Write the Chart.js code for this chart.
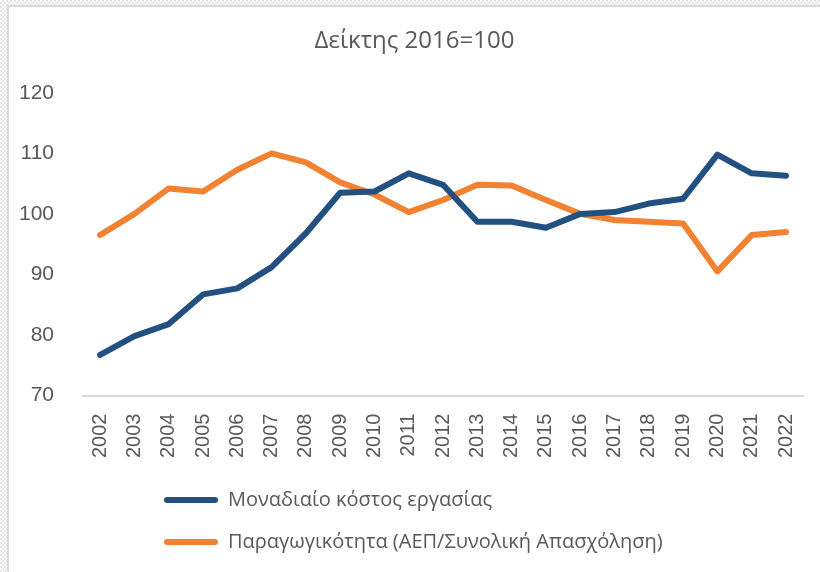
<!DOCTYPE html>
<html>
<head>
<meta charset="utf-8">
<script src="https://cdn.jsdelivr.net/npm/chart.js@4"></script>
<style>
  html, body { margin: 0; padding: 0; }
  body {
    width: 820px; height: 572px; overflow: hidden;
    background: repeating-conic-gradient(#e4e4e4 0 25%, #ffffff 0 50%) 0 0 / 4px 4px;
  }
  #box {
    position: absolute; left: 7px; top: 5px; width: 813px; height: 567px;
    background: #fff; border-left: 2px solid #d9d9d9; border-top: 2px solid #d9d9d9;
    box-sizing: border-box;
  }
  #wrap { position: absolute; left: 0; top: 0; width: 811px; height: 565px; }
</style>
</head>
<body>
<div id="box"><div id="wrap"><canvas id="lineChart"></canvas></div></div>
<script>
const years = ['2002','2003','2004','2005','2006','2007','2008','2009','2010','2011','2012',
  '2013','2014','2015','2016','2017','2018','2019','2020','2021','2022'];
const unitLabourCost = [76.7,79.8,81.8,86.7,87.7,91.2,96.8,103.5,103.7,106.7,104.8,
  98.7,98.7,97.7,100,100.3,101.7,102.5,109.8,106.7,106.3];
const productivity = [96.5,100,104.2,103.7,107.3,110,108.5,105.2,103.2,100.3,102.3,
  104.8,104.7,102.3,100,99,98.7,98.4,90.5,96.5,97];
const yTicks = [70,80,90,100,110,120];

const grey = '#595959';

// shift the bottom legend so both rows start at the same x like the original
const legendShift = {
  id: 'legendShift',
  afterLayout(chart) {
    chart.legend.left = 133;
  }
};

new Chart(lineChart, {
  type: 'line',
  data: {
    labels: years,
    datasets: [
      {
        label: 'Μοναδιαίο κόστος εργασίας',
        data: unitLabourCost,
        borderColor: '#215081',
        backgroundColor: '#215081',
        borderWidth: 6
      },
      {
        label: 'Παραγωγικότητα (ΑΕΠ/Συνολική Απασχόληση)',
        data: productivity,
        borderColor: '#f08232',
        backgroundColor: '#f08232',
        borderWidth: 6
      }
    ]
  },
  options: {
    responsive: true,
    maintainAspectRatio: false,
    animation: false,
    layout: { padding: { top: 0, right: 0, bottom: 10, left: 0 } },
    elements: {
      point: { radius: 0 },
      line: { tension: 0, borderCapStyle: 'round', borderJoinStyle: 'round' }
    },
    plugins: {
      title: {
        display: true,
        text: 'Δείκτης 2016=100',
        color: grey,
        font: { family: 'Open Sans', size: 24, weight: 'normal' },
        padding: { top: 20, bottom: 37 }
      },
      legend: {
        position: 'bottom',
        align: 'start',
        labels: {
          color: grey,
          font: { family: 'Open Sans', size: 20 },
          boxWidth: 54,
          boxHeight: 6,
          padding: 22,
          useBorderRadius: true,
          borderRadius: 3,
          generateLabels: c => Chart.defaults.plugins.legend.labels.generateLabels(c)
            .map(l => ({ ...l, lineWidth: 0 }))
        }
      },
      tooltip: { enabled: false }
    },
    scales: {
      x: {
        offset: true,
        grid: { display: false, offset: true },
        border: { display: true, color: '#d9d9d9', width: 2 },
        ticks: {
          color: grey,
          font: { family: 'Liberation Sans', size: 20 },
          autoSkip: false,
          minRotation: 90,
          maxRotation: 90,
          padding: 10
        }
      },
      y: {
        min: 70,
        max: 120,
        grid: { display: false },
        border: { display: false },
        afterBuildTicks: s => { s.ticks = yTicks.map(v => ({ value: v })); },
        afterFit: s => { s.width = 74; },
        ticks: {
          color: grey,
          font: { family: 'Liberation Sans', size: 21 },
          padding: 21
        }
      }
    }
  },
  plugins: [legendShift]
});
</script>
</body>
</html>
